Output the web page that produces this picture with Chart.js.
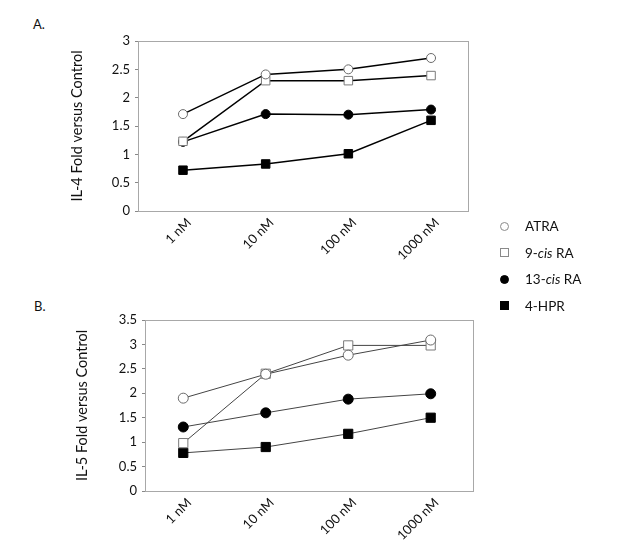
<!DOCTYPE html>
<html>
<head>
<meta charset="utf-8">
<script src="https://cdn.jsdelivr.net/npm/chart.js@4/dist/chart.umd.min.js"></script>
<style>
  html, body { margin: 0; padding: 0; background: #fff; }
  body { width: 625px; height: 542px; position: relative; overflow: hidden; font-family: Lato, "Open Sans", sans-serif; color: #111; }
  canvas { position: absolute; left: 0; }
  #cA { top: 0; }
  #cB { top: 280px; }
  .panel { position: absolute; font-size: 13px; }
  .row { position: absolute; left: 496px; height: 16px; line-height: 16px; font-size: 13.5px; white-space: nowrap; }
  .mk { position: absolute; box-sizing: border-box; }
  .row span.t { position: absolute; left: 29px; top: 0; }
</style>
</head>
<body>
<div class="panel" style="left:33px; top:16px;">A.</div>
<div class="panel" style="left:34px; top:298px;">B.</div>
<canvas id="cA" width="625" height="280"></canvas>
<canvas id="cB" width="625" height="262"></canvas>
<div id="legend"></div>
<script>
// ---- data ----
const doses = ['1 nM', '10 nM', '100 nM', '1000 nM'];
const seriesNames = ['ATRA', '9-cis RA', '13-cis RA', '4-HPR'];

// Panel A: IL-4 fold versus control
const il4_ATRA   = [1.71, 2.41, 2.50, 2.70];
const il4_9cis   = [1.23, 2.30, 2.30, 2.39];
const il4_13cis  = [1.22, 1.71, 1.70, 1.79];
const il4_4HPR   = [0.72, 0.83, 1.01, 1.60];
const il4Ticks   = [0, 0.5, 1, 1.5, 2, 2.5, 3];

// Panel B: IL-5 fold versus control
const il5_ATRA   = [1.90, 2.39, 2.78, 3.09];
const il5_9cis   = [0.98, 2.40, 2.98, 2.98];
const il5_13cis  = [1.31, 1.60, 1.88, 1.99];
const il5_4HPR   = [0.78, 0.90, 1.17, 1.50];
const il5Ticks   = [0, 0.5, 1, 1.5, 2, 2.5, 3, 3.5];

// ---- styles ----
const markerStyles = [
  { pointStyle: 'circle', fill: '#ffffff', stroke: '#6a6a6a' },
  { pointStyle: 'rect',   fill: '#ffffff', stroke: '#7a7a7a' },
  { pointStyle: 'circle', fill: '#000000', stroke: '#000000' },
  { pointStyle: 'rect',   fill: '#000000', stroke: '#000000' }
];

const framePlugin = {
  id: 'frame',
  beforeDatasetsDraw(chart, args, opts) {
    const a = chart.chartArea, ctx = chart.ctx;
    ctx.save();
    ctx.strokeStyle = opts.color || '#aaa';
    ctx.lineWidth = 1;
    ctx.strokeRect(Math.round(a.left) + 0.5, Math.round(a.top) + 0.5,
                   Math.round(a.right - a.left), Math.round(a.bottom - a.top));
    ctx.restore();
  }
};

function makeChart(id, cfg) {
  const datasets = cfg.series.map((vals, i) => {
    const m = markerStyles[i];
    const isRect = m.pointStyle === 'rect';
    return {
      label: seriesNames[i],
      data: vals.map((v, k) => ({ x: k, y: v })),
      borderColor: cfg.lineColor,
      borderWidth: cfg.lineWidth,
      pointStyle: m.pointStyle,
      pointRadius: isRect ? cfg.rectR : cfg.circR,
      pointBackgroundColor: m.fill,
      pointBorderColor: m.stroke,
      pointBorderWidth: 1,
      tension: 0,
      fill: false
    };
  });
  return new Chart(document.getElementById(id), {
    type: 'line',
    data: { datasets },
    options: {
      responsive: false,
      animation: false,
      events: [],
      layout: { padding: cfg.padding },
      plugins: { legend: { display: false }, tooltip: { enabled: false }, frame: { color: '#a8a8a8' } },
      scales: {
        x: {
          type: 'linear',
          min: cfg.xMin, max: cfg.xMax,
          afterBuildTicks: (axis) => { axis.ticks = doses.map((d, i) => ({ value: i })); },
          afterFit: (s) => { s.height = cfg.xHeight; },
          grid: { display: false },
          border: { display: false },
          ticks: {
            autoSkip: false,
            minRotation: 45, maxRotation: 45,
            padding: -4,
            labelOffset: 6,
            color: '#111',
            font: { family: 'Lato', size: 13 },
            callback: (v) => doses[v]
          }
        },
        y: {
          min: 0, max: cfg.yTicks[cfg.yTicks.length - 1],
          afterBuildTicks: (axis) => { axis.ticks = cfg.yTicks.map(v => ({ value: v })); },
          afterFit: (s) => { s.width = cfg.yWidth; },
          grid: { drawOnChartArea: false, drawTicks: true, tickLength: 3, color: '#888' },
          border: { display: false },
          ticks: { padding: 5, color: '#111', font: { family: 'Lato', size: 13 }, callback: (v) => String(v) },
          title: { display: true, text: cfg.yTitle, color: '#111', font: { family: 'Lato', size: 14.5 }, padding: { top: 4, bottom: 4 } }
        }
      }
    },
    plugins: [framePlugin]
  });
}

makeChart('cA', {
  series: [il4_ATRA, il4_9cis, il4_13cis, il4_4HPR],
  yTicks: il4Ticks,
  yTitle: 'IL-4 Fold versus Control',
  padding: { left: 65, top: 41, right: 157, bottom: 0 },
  yWidth: 73, xHeight: 69,
  xMin: -0.544, xMax: 3.447,
  lineColor: '#000', lineWidth: 1.5,
  circR: 4.5, rectR: 6
});

makeChart('cB', {
  series: [il5_ATRA, il5_9cis, il5_13cis, il5_4HPR],
  yTicks: il5Ticks,
  yTitle: 'IL-5 Fold versus Control',
  padding: { left: 70, top: 40, right: 152, bottom: 0 },
  yWidth: 75, xHeight: 51,
  xMin: -0.464, xMax: 3.513,
  lineColor: '#444', lineWidth: 1,
  circR: 5, rectR: 6.5
});

// ---- legend ----
const legend = document.getElementById('legend');
seriesNames.forEach((name, i) => {
  const m = markerStyles[i];
  const row = document.createElement('div');
  row.className = 'row';
  row.style.top = (218 + i * 26.5) + 'px';
  const mk = document.createElement('div');
  mk.className = 'mk';
  const size = 9;
  mk.style.width = size + 'px';
  mk.style.height = size + 'px';
  mk.style.left = (8.5 - size / 2) + 'px';
  mk.style.top = (8 - size / 2) + 'px';
  mk.style.background = m.fill;
  mk.style.border = '1px solid ' + (m.fill === '#ffffff' ? '#8a8a8a' : '#000');
  if (m.pointStyle === 'circle') mk.style.borderRadius = '50%';
  row.appendChild(mk);
  const t = document.createElement('span');
  t.className = 't';
  t.innerHTML = name.replace('cis', '<i>cis</i>');
  row.appendChild(t);
  legend.appendChild(row);
});
</script>
</body>
</html>
